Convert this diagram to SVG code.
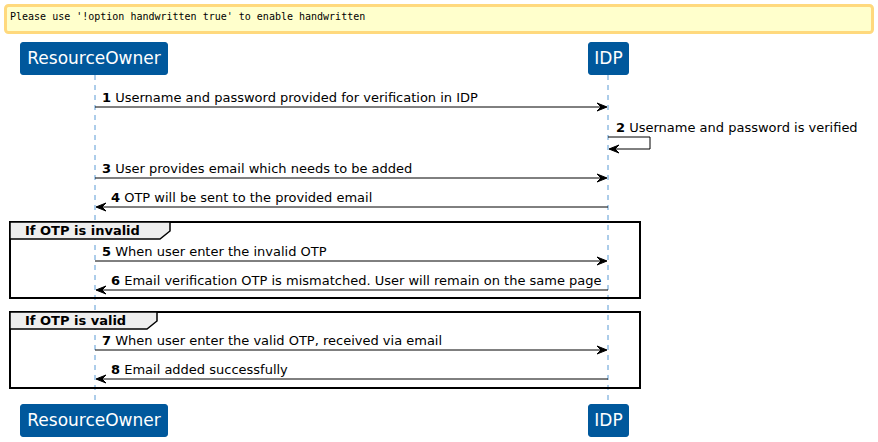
<svg xmlns="http://www.w3.org/2000/svg" width="878" height="442" viewBox="0 0 878 442">
<style>
.p{fill:#00589C;stroke:#00589C;stroke-width:1}
.pt{font-family:"DejaVu Sans",sans-serif;font-size:17px;fill:#ffffff}
.ll{stroke:#5B9BD5;stroke-width:1;stroke-dasharray:5,5}
.m{stroke:#000;stroke-width:1;fill:none}
.ah{fill:#000;stroke:#000;stroke-width:1}
.t{font-family:"DejaVu Sans",sans-serif;font-size:13px;fill:#000}
.n{font-weight:bold}
.g{fill:none;stroke:#000;stroke-width:2}
.gh{fill:#EEEEEE;stroke:#000;stroke-width:1.5}
.gt{font-family:"DejaVu Sans",sans-serif;font-size:13px;font-weight:bold;fill:#000}
</style>
<g id="note">
<rect x="5.5" y="5.5" width="867" height="27" rx="3" fill="#FFFFCC" stroke="#FFD97D" stroke-width="3"/>
<text x="10" y="20" font-family="DejaVu Sans Mono,monospace" font-size="10px">Please use '!option handwritten true' to enable handwritten</text>
</g>
<g id="lifelines">
<line class="ll" x1="95" y1="75" x2="95" y2="404"/>
<line class="ll" x1="608" y1="75" x2="608" y2="404"/>
</g>
<g id="ResourceOwner">
<rect class="p" x="20.5" y="42.5" width="147" height="32" rx="2.5"/>
<text class="pt" x="94" y="64" text-anchor="middle">ResourceOwner</text>
<rect class="p" x="20.5" y="404.5" width="147" height="32" rx="2.5"/>
<text class="pt" x="94" y="426" text-anchor="middle">ResourceOwner</text>
</g>
<g id="IDP">
<rect class="p" x="588.5" y="42.5" width="40" height="32" rx="2.5"/>
<text class="pt" x="608.5" y="64" text-anchor="middle">IDP</text>
<rect class="p" x="588.5" y="404.5" width="40" height="32" rx="2.5"/>
<text class="pt" x="608.5" y="426" text-anchor="middle">IDP</text>
</g>
<g id="groups">
<rect class="g" x="10" y="222" width="630" height="76"/>
<path class="gh" d="M10,222 H170 V231 L160,239 H10 Z"/>
<text class="gt" x="25" y="235">If OTP is invalid</text>
<rect class="g" x="10" y="312" width="630" height="76"/>
<path class="gh" d="M10,312 H157 V321 L147,329 H10 Z"/>
<text class="gt" x="25" y="325">If OTP is valid</text>
</g>
<g id="connectors">
<line class="m" x1="95" y1="107" x2="606" y2="107"/>
<polygon class="ah" points="607,107 597,103 601,107 597,111"/>
<polyline class="m" points="608,137 650,137 650,149 610,149"/>
<polygon class="ah" points="609,149 619,145 615,149 619,153"/>
<line class="m" x1="95" y1="178" x2="606" y2="178"/>
<polygon class="ah" points="607,178 597,174 601,178 597,182"/>
<line class="m" x1="97" y1="207" x2="608" y2="207"/>
<polygon class="ah" points="96,207 106,203 102,207 106,211"/>
<line class="m" x1="95" y1="261" x2="606" y2="261"/>
<polygon class="ah" points="607,261 597,257 601,261 597,265"/>
<line class="m" x1="97" y1="290" x2="608" y2="290"/>
<polygon class="ah" points="96,290 106,286 102,290 106,294"/>
<line class="m" x1="95" y1="350" x2="606" y2="350"/>
<polygon class="ah" points="607,350 597,346 601,350 597,354"/>
<line class="m" x1="97" y1="379" x2="608" y2="379"/>
<polygon class="ah" points="96,379 106,375 102,379 106,383"/>
</g>
<g id="labels">
<text class="t" x="102" y="102"><tspan class="n">1</tspan> Username and password provided for verification in IDP</text>
<text class="t" x="616" y="132"><tspan class="n">2</tspan> Username and password is verified</text>
<text class="t" x="102" y="173"><tspan class="n">3</tspan> User provides email which needs to be added</text>
<text class="t" x="111" y="202"><tspan class="n">4</tspan> OTP will be sent to the provided email</text>
<text class="t" x="102" y="256"><tspan class="n">5</tspan> When user enter the invalid OTP</text>
<text class="t" x="111" y="285"><tspan class="n">6</tspan> Email verification OTP is mismatched. User will remain on the same page</text>
<text class="t" x="102" y="345"><tspan class="n">7</tspan> When user enter the valid OTP, received via email</text>
<text class="t" x="111" y="374"><tspan class="n">8</tspan> Email added successfully</text>
</g>
</svg>
